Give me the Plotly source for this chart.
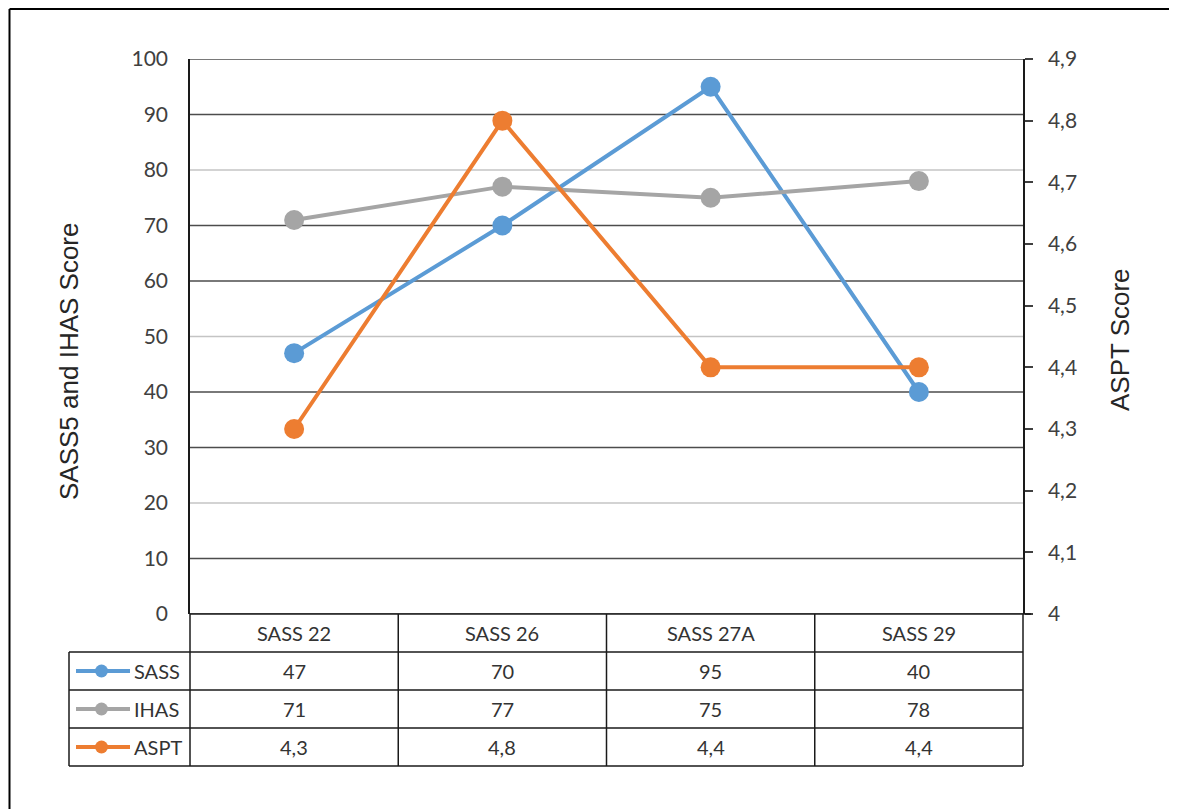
import plotly.graph_objects as go

# ---- data ----
categories = ["SASS 22", "SASS 26", "SASS 27A", "SASS 29"]
sass = [47, 70, 95, 40]
ihas = [71, 77, 75, 78]
aspt = [4.3, 4.8, 4.4, 4.4]
left_ticks = [0, 10, 20, 30, 40, 50, 60, 70, 80, 90, 100]
right_ticks = [4.0, 4.1, 4.2, 4.3, 4.4, 4.5, 4.6, 4.7, 4.8, 4.9]
series_names = ["SASS", "IHAS", "ASPT"]

# ---- style ----
W, H = 1177, 809
OFF = 8  # page body margin offset
# plot area in screen pixels (reference)
SL, SR, ST, SB = 190, 1023, 59, 614
L, R, T, B = SL - OFF, SR - OFF, ST - OFF, SB - OFF
colors = {"SASS": "#5B9BD5", "IHAS": "#A5A5A5", "ASPT": "#ED7D31"}
light_grid = {20, 50, 80}
tick_font = dict(family="Lato", size=21, color="#404040")
title_font = dict(family="Liberation Sans", size=26, color="#262626")
table_font = dict(family="Lato", size=20, color="#333333")
line_col = "#1a1a1a"


def px(x):
    # screen x -> paper
    return (x - SL) / (SR - SL)


def py(y):
    # screen y -> paper
    return (SB - y) / (SB - ST)


fig = go.Figure()
xs = list(range(len(categories)))
fig.add_trace(go.Scatter(x=xs, y=sass, name="SASS",
                         mode="lines+markers", line=dict(color=colors["SASS"], width=4),
                         marker=dict(size=20, color=colors["SASS"]), cliponaxis=False))
fig.add_trace(go.Scatter(x=xs, y=ihas, name="IHAS",
                         mode="lines+markers", line=dict(color=colors["IHAS"], width=4),
                         marker=dict(size=20, color=colors["IHAS"]), cliponaxis=False))
fig.add_trace(go.Scatter(x=xs, y=aspt, name="ASPT", yaxis="y2",
                         mode="lines+markers", line=dict(color=colors["ASPT"], width=4),
                         marker=dict(size=20, color=colors["ASPT"]), cliponaxis=False))

shapes = []
# gridlines (left axis)
for v in left_ticks:
    c = "#c4c4c4" if v in light_grid else "#4d4d4d"
    shapes.append(dict(type="line", xref="paper", yref="y", x0=0, x1=1, y0=v, y1=v,
                       line=dict(color=c, width=1.5), layer="below"))

# data table lines
row_tops = [SB, 652, 690, 728, 766]
col_x = [SL + i * (SR - SL) / len(categories) for i in range(len(categories) + 1)]
legend_left = 69
shapes.append(dict(type="line", xref="paper", yref="paper", x0=0, x1=1,
                   y0=py(row_tops[0]), y1=py(row_tops[0]), line=dict(color=line_col, width=1.5)))
for ry in row_tops[1:]:
    shapes.append(dict(type="line", xref="paper", yref="paper", x0=px(legend_left), x1=1,
                       y0=py(ry), y1=py(ry), line=dict(color=line_col, width=1.5)))
for cx in col_x:
    shapes.append(dict(type="line", xref="paper", yref="paper", x0=px(cx), x1=px(cx),
                       y0=py(row_tops[0]), y1=py(row_tops[-1]), line=dict(color=line_col, width=1.5)))
shapes.append(dict(type="line", xref="paper", yref="paper", x0=px(legend_left), x1=px(legend_left),
                   y0=py(row_tops[1]), y1=py(row_tops[-1]), line=dict(color=line_col, width=1.5)))
shapes.append(dict(type="line", xref="paper", yref="paper", x0=1, x1=px(SR + 8),
                   y0=0, y1=0, line=dict(color=line_col, width=1.5)))

# outer chart border (as close to the page corner as the figure allows)
bx, by = OFF + 1.5, OFF + 1
shapes.append(dict(type="line", xref="paper", yref="paper", x0=px(bx), x1=px(W + 20),
                   y0=py(by), y1=py(by), line=dict(color="#000000", width=2)))
shapes.append(dict(type="line", xref="paper", yref="paper", x0=px(bx), x1=px(bx),
                   y0=py(by), y1=py(H + 20), line=dict(color="#000000", width=2)))

annotations = []
for i, cat in enumerate(categories):
    cx = (col_x[i] + col_x[i + 1]) / 2
    annotations.append(dict(x=px(cx), y=py((row_tops[0] + row_tops[1]) / 2), xref="paper", yref="paper",
                            text=cat, showarrow=False, font=table_font, xanchor="center", yanchor="middle"))
table_vals = {"SASS": [str(v) for v in sass],
              "IHAS": [str(v) for v in ihas],
              "ASPT": [f"{v:.1f}".replace(".", ",") for v in aspt]}
for r, name in enumerate(series_names):
    cy = (row_tops[r + 1] + row_tops[r + 2]) / 2
    shapes.append(dict(type="line", xref="paper", yref="paper", x0=px(76), x1=px(130),
                       y0=py(cy), y1=py(cy), line=dict(color=colors[name], width=4)))
    shapes.append(dict(type="circle", xref="paper", yref="paper", x0=px(95), x1=px(108),
                       y0=py(cy - 6.5), y1=py(cy + 6.5), fillcolor=colors[name],
                       line=dict(color=colors[name], width=0)))
    annotations.append(dict(x=px(132), y=py(cy), xref="paper", yref="paper", text=name,
                            showarrow=False, font=table_font, xanchor="left", yanchor="middle"))
    for i, val in enumerate(table_vals[name]):
        cx = (col_x[i] + col_x[i + 1]) / 2
        annotations.append(dict(x=px(cx), y=py(cy), xref="paper", yref="paper", text=val,
                                showarrow=False, font=table_font, xanchor="center", yanchor="middle"))

annotations.append(dict(x=px(69), y=py(362), xref="paper", yref="paper", text="SASS5 and IHAS Score",
                        textangle=-90, showarrow=False, font=title_font, xanchor="center", yanchor="middle"))
annotations.append(dict(x=px(1120), y=py(340), xref="paper", yref="paper", text="ASPT Score",
                        textangle=-90, showarrow=False, font=title_font, xanchor="center", yanchor="middle"))

fig.update_layout(
    width=W, height=H,
    margin=dict(l=L, r=W - R, t=T, b=H - B, pad=0),
    paper_bgcolor="white", plot_bgcolor="white",
    separators=", ",
    showlegend=False,
    xaxis=dict(range=[-0.5, len(categories) - 0.5], showticklabels=False, showgrid=False,
               zeroline=False, showline=False, fixedrange=True),
    yaxis=dict(range=[left_ticks[0], left_ticks[-1]], tickvals=left_ticks, showgrid=False,
               zeroline=False, showline=True, linecolor=line_col, linewidth=1.5,
               ticks="", ticklabelstandoff=16, tickfont=tick_font),
    yaxis2=dict(range=[right_ticks[0], right_ticks[-1]], tickvals=right_ticks,
                overlaying="y", side="right", showgrid=False, zeroline=False,
                showline=True, linecolor=line_col, linewidth=1.5,
                ticks="outside", ticklen=8, tickwidth=1.5, tickcolor="#404040",
                ticklabelstandoff=11, tickfont=tick_font),
    shapes=shapes,
    annotations=annotations,
)

fig.write_html("out.html")
